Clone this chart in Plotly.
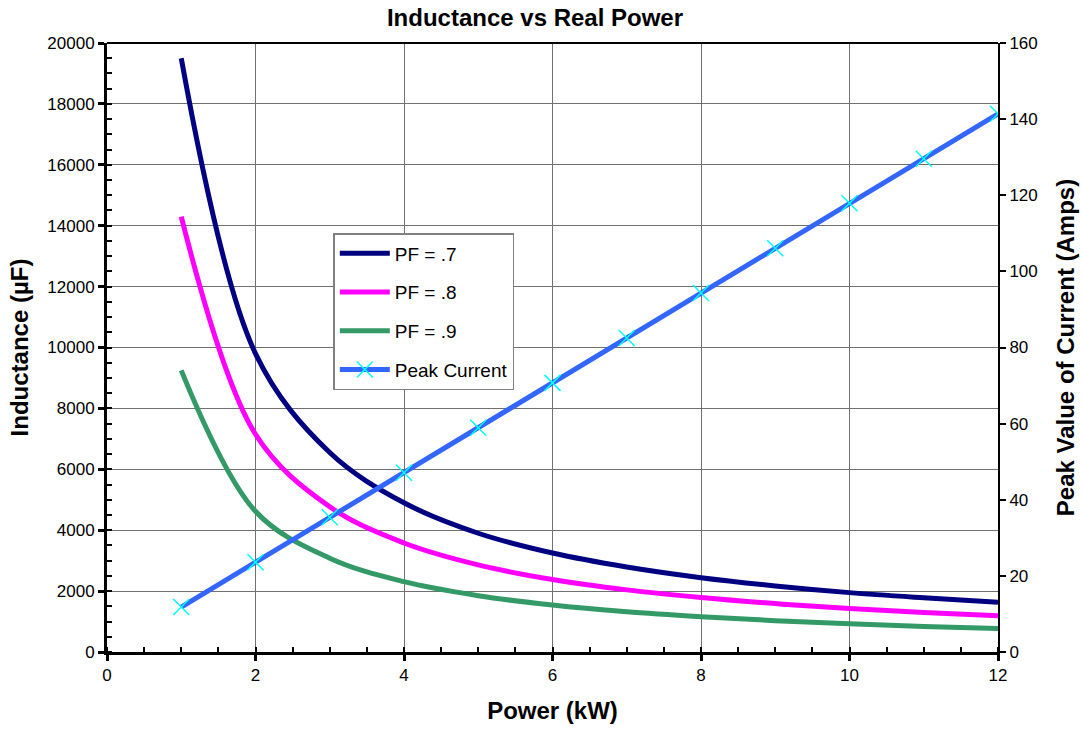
import plotly.graph_objects as go

power_kw = [1, 2, 3, 4, 5, 6, 7, 8, 9, 10, 11, 12]
pf07 = [19500, 9800, 6550, 4900, 3900, 3250, 2790, 2440, 2170, 1950, 1780, 1630]
pf08 = [14300, 7150, 4770, 3580, 2860, 2380, 2040, 1790, 1590, 1430, 1300, 1190]
pf09 = [9250, 4620, 3080, 2310, 1850, 1540, 1320, 1160, 1030, 925, 840, 770]
peak_current = [11.8, 23.6, 35.4, 47.1, 58.9, 70.7, 82.5, 94.3, 106.1, 117.9, 129.6, 141.4]

FONT = "Liberation Sans, Arial, sans-serif"

fig = go.Figure()
fig.add_trace(go.Scatter(x=power_kw, y=pf07, name="PF = .7", mode="lines",
                         line=dict(color="#000080", width=5, shape="spline"), legendgroup="a"))
fig.add_trace(go.Scatter(x=power_kw, y=pf08, name="PF = .8", mode="lines",
                         line=dict(color="#FF00FF", width=5, shape="spline"), legendgroup="b"))
fig.add_trace(go.Scatter(x=power_kw, y=pf09, name="PF = .9", mode="lines",
                         line=dict(color="#339966", width=5, shape="spline"), legendgroup="c"))
fig.add_trace(go.Scatter(x=power_kw, y=peak_current, name="Peak Current", mode="lines+markers",
                         yaxis="y2",
                         line=dict(color="#3366FF", width=5),
                         marker=dict(symbol="x-thin", size=16, line=dict(color="#00FFFF", width=1.5)),
                         legendgroup="d"))

fig.update_layout(
    width=1082, height=730,
    paper_bgcolor="white", plot_bgcolor="white",
    margin=dict(l=107, r=84, t=43, b=78, autoexpand=False),
    font=dict(family=FONT, size=17, color="black"),
    title=dict(text="<b>Inductance vs Real Power</b>", x=535 / 1082, xref="container",
               xanchor="center",
               y=1 - 18 / 730, yref="container",
               yanchor="middle", font=dict(size=24, family=FONT)),
    showlegend=True,
    legend=dict(x=0.254, y=0.688, xanchor="left", yanchor="top",
                bgcolor="white", bordercolor="#808080", borderwidth=1.5,
                font=dict(size=19, family=FONT), tracegroupgap=11,
                itemwidth=50),
    xaxis=dict(range=[0, 12], dtick=2, tick0=0, automargin=False,
               showgrid=True, gridcolor="#707070", gridwidth=1,
               showline=True, linecolor="black", linewidth=3,
               ticks="outside", ticklen=6, tickwidth=3, tickcolor="black",
               minor=dict(dtick=0.5, ticks="inside", ticklen=5, tickwidth=2, tickcolor="black", showgrid=False),
               zeroline=False,
               title=dict(text="<b>Power (kW)</b>", font=dict(size=24, family=FONT), standoff=18),
               tickfont=dict(size=17)),
    yaxis=dict(range=[0, 20000], dtick=2000, tick0=0, automargin=False, tickformat="d",
               showgrid=True, gridcolor="#707070", gridwidth=1,
               showline=True, linecolor="black", linewidth=3,
               ticks="outside", ticklen=6, tickwidth=3, tickcolor="black",
               minor=dict(dtick=500, ticks="inside", ticklen=5, tickwidth=2, tickcolor="black", showgrid=False),
               zeroline=False,
               title=dict(text="<b>Inductance (\u00b5F)</b>", font=dict(size=24, family=FONT), standoff=12),
               tickfont=dict(size=17)),
    yaxis2=dict(range=[0, 160], dtick=20, tick0=0, overlaying="y", side="right", automargin=False,
                showgrid=False, showline=True, linecolor="black", linewidth=2,
                ticks="outside", ticklen=6, tickwidth=2, tickcolor="black",
                zeroline=False,
                title=dict(text="<b>Peak Value of Current (Amps)</b>", font=dict(size=24, family=FONT), standoff=20),
                tickfont=dict(size=17)),
)

fig.add_shape(type="line", xref="paper", yref="paper", x0=0, x1=1, y0=1, y1=1,
              line=dict(color="black", width=2))

fig.write_html("out.html", config={"displayModeBar": False},
               post_script="document.body.style.margin='0';")
